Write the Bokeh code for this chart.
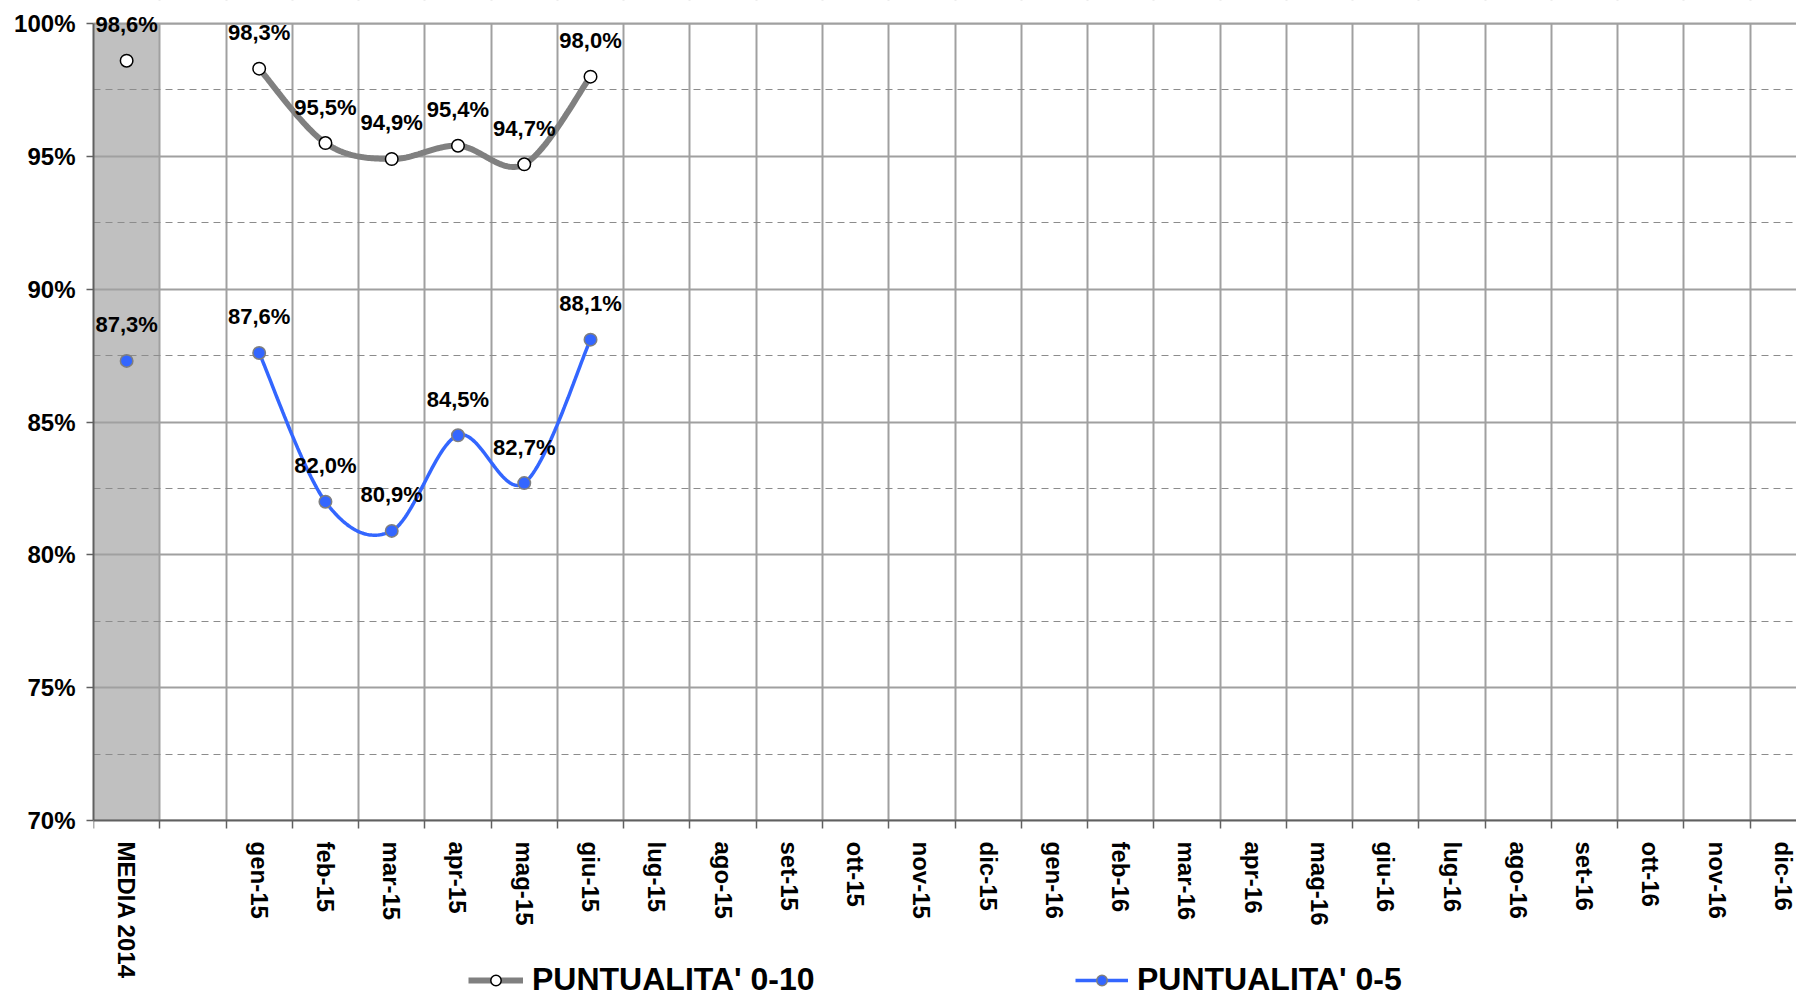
import math
import numpy as np
from bokeh.plotting import figure
from bokeh.core.properties import value
from bokeh.models import (ColumnDataSource, FixedTicker, LabelSet, Legend, LegendItem,
                          PrintfTickFormatter, Range1d)
from bokeh.embed import file_html
from bokeh.resources import INLINE

# ---------------- data ----------------
slot_labels = ["MEDIA 2014", "",
               "gen-15", "feb-15", "mar-15", "apr-15", "mag-15", "giu-15",
               "lug-15", "ago-15", "set-15", "ott-15", "nov-15", "dic-15",
               "gen-16", "feb-16", "mar-16", "apr-16", "mag-16", "giu-16",
               "lug-16", "ago-16", "set-16", "ott-16", "nov-16", "dic-16"]
series_names = ["PUNTUALITA' 0-10", "PUNTUALITA' 0-5"]
media_label = "MEDIA 2014"
media_010 = 98.6
media_05 = 87.3
data_months = ["gen-15", "feb-15", "mar-15", "apr-15", "mag-15", "giu-15"]
punt_010 = [98.3, 95.5, 94.9, 95.4, 94.7, 98.0]
punt_05 = [87.6, 82.0, 80.9, 84.5, 82.7, 88.1]
y_ticks = [70, 75, 80, 85, 90, 95, 100]
y_minor_ticks = [72.5, 77.5, 82.5, 87.5, 92.5, 97.5]

# ---------------- helpers ----------------
def slot_center(label):
    return slot_labels.index(label) + 0.5

def smooth(xs, ys, n=40):
    P = np.column_stack([xs, ys]).astype(float)
    m = len(P)
    ox, oy = [], []
    for i in range(m - 1):
        p0 = P[max(i - 1, 0)]
        p1 = P[i]
        p2 = P[i + 1]
        p3 = P[min(i + 2, m - 1)]
        c1 = p1 + (p2 - p0) / 6.0
        c2 = p2 - (p3 - p1) / 6.0
        t = np.linspace(0, 1, n, endpoint=(i == m - 2))
        b = ((1 - t) ** 3)[:, None] * p1 + (3 * (1 - t) ** 2 * t)[:, None] * c1 \
            + (3 * (1 - t) * t ** 2)[:, None] * c2 + (t ** 3)[:, None] * p2
        ox.extend(b[:, 0])
        oy.extend(b[:, 1])
    return ox, oy

def fmt(v):
    return f"{v:.1f}".replace(".", ",") + "%"

FONT = "Liberation Sans"
GRAY_LINE = "#808080"
BLUE = "#3366FF"
GRID = "#a0a0a0"
AXIS = "#606060"

# ---------------- layout ----------------
W, H = 1796, 998
LEFT, TOP, AXIS_Y = 93, 23, 820          # frame left, 100% line, 70% line (pixels)
PX_PER_SLOT = 66.27
px_per_pct = (AXIS_Y - TOP) / (y_ticks[-1] - y_ticks[0])
y_low = y_ticks[0] - (H - AXIS_Y) / px_per_pct
y_high = y_ticks[-1] + TOP / px_per_pct
x_end = (W - LEFT) / PX_PER_SLOT

xm = [slot_center(m) for m in data_months]
x_all = [slot_center(media_label)] + xm
v010_all = [media_010] + punt_010
v05_all = [media_05] + punt_05

p = figure(width=W, height=H,
           x_range=Range1d(0, x_end),
           y_range=Range1d(y_low, y_high),
           output_backend="svg", toolbar_location=None,
           min_border_left=LEFT, min_border_right=0, min_border_top=0, min_border_bottom=0,
           outline_line_color=None, background_fill_color="white", border_fill_color="white")

# MEDIA band
mi = slot_labels.index(media_label)
p.quad(left=[mi], right=[mi + 1], bottom=[y_ticks[0]], top=[y_ticks[-1]],
       fill_color="#c0c0c0", line_color=None, level="image")
# white areas outside the 70%-100% plot area (hide grid lines there)
p.quad(left=[0, 0], right=[x_end, x_end], bottom=[y_low, y_ticks[-1]], top=[y_ticks[0], y_high],
       fill_color="white", line_color=None)

# grids
p.xgrid.ticker = FixedTicker(ticks=list(range(len(slot_labels) + 1)))
p.xgrid.grid_line_color = GRID
p.xgrid.grid_line_width = 2
p.ygrid.grid_line_color = GRID
p.ygrid.grid_line_width = 2
p.ygrid.minor_grid_line_color = "#8c8c8c"
p.ygrid.minor_grid_line_width = 1
p.ygrid.minor_grid_line_dash = "7 5"

# top border line at 100%
p.segment(x0=[0], y0=[y_ticks[-1]], x1=[x_end], y1=[y_ticks[-1]], line_color=GRID, line_width=2)

# x axis (fixed at the 70% line)
centers = [i + 0.5 for i, l in enumerate(slot_labels) if l]
xa = p.xaxis[0]
xa.fixed_location = y_ticks[0]
xa.ticker = FixedTicker(ticks=centers, minor_ticks=list(range(len(slot_labels) + 1)))
xa.major_label_overrides = {i + 0.5: l for i, l in enumerate(slot_labels) if l}
xa.major_label_orientation = -math.pi / 2
xa.major_tick_out = 0
xa.major_tick_in = 0
xa.minor_tick_out = 8
xa.minor_tick_in = 0
xa.minor_tick_line_color = AXIS
xa.minor_tick_line_width = 1.5
xa.axis_line_color = AXIS
xa.axis_line_width = 2
xa.major_label_standoff = 13
xa.major_label_text_font = FONT
xa.major_label_text_font_style = "bold"
xa.major_label_text_font_size = "24px"
xa.major_label_text_color = "black"

# y axis
ya = p.yaxis[0]
ya.bounds = (y_ticks[0], y_ticks[-1])
ya.ticker = FixedTicker(ticks=y_ticks, minor_ticks=y_minor_ticks)
ya.formatter = PrintfTickFormatter(format="%d%%")
ya.major_tick_out = 7
ya.major_tick_in = 0
ya.major_tick_line_color = AXIS
ya.major_tick_line_width = 1.5
ya.minor_tick_line_color = None
ya.axis_line_color = AXIS
ya.axis_line_width = 2
ya.major_label_standoff = 11
ya.major_label_text_font = FONT
ya.major_label_text_font_style = "bold"
ya.major_label_text_font_size = "24px"
ya.major_label_text_color = "black"

# series 0-10
sx, sy = smooth(xm, punt_010)
l1 = p.line(sx, sy, line_color=GRAY_LINE, line_width=6)
s1 = p.scatter(x_all, v010_all, size=12.5, fill_color="white", line_color="black", line_width=1.5)

# series 0-5
bx, by = smooth(xm, punt_05)
l2 = p.line(bx, by, line_color=BLUE, line_width=3.5)
s2 = p.scatter(x_all, v05_all, size=12.5, fill_color=BLUE, line_color="#7f7f7f", line_width=1.5)

# data labels
for xs_, vs_ in ((x_all, v010_all), (x_all, v05_all)):
    src = ColumnDataSource(dict(x=xs_, y=vs_, t=[fmt(v) for v in vs_]))
    p.add_layout(LabelSet(x="x", y="y", text="t", source=src, y_offset=36,
                          text_align="center", text_baseline="middle",
                          text_font=value(FONT), text_font_style="bold",
                          text_font_size="22px", text_color="black"))

# legends
def make_leg(name, rends, loc, gw):
    return Legend(items=[LegendItem(label=name, renderers=rends)], location=loc,
                  orientation="horizontal", padding=0, margin=0, border_line_color=None,
                  background_fill_alpha=0, glyph_width=gw, glyph_height=26, label_height=26,
                  label_standoff=9, label_text_font=FONT, label_text_font_style="bold",
                  label_text_font_size="32px", label_text_color="black")

p.add_layout(make_leg(series_names[0], [l1, s1], (375, 0), 55), "center")
p.add_layout(make_leg(series_names[1], [l2, s2], (982, 0), 53), "center")

open("out.html", "w").write(file_html(p, INLINE))
